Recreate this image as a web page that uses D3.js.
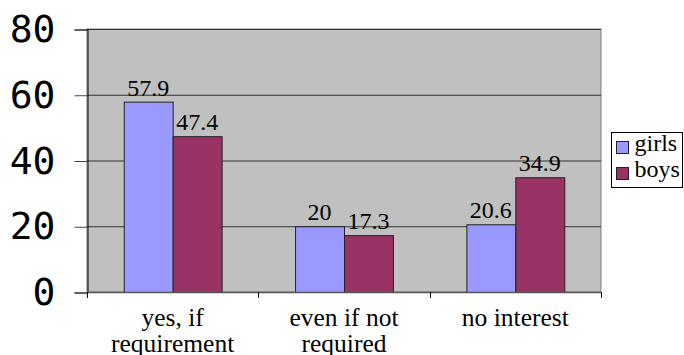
<!DOCTYPE html>
<html>
<head>
<meta charset="utf-8">
<script src="https://cdn.jsdelivr.net/npm/d3@7"></script>
<style>
  html, body { margin: 0; padding: 0; background: #fff; overflow: hidden; }
  svg { display: block; }
  .serif { font-family: "Liberation Serif", "Times New Roman", Times, serif; }
  .mono { font-family: "DejaVu Sans Mono", "Liberation Mono", monospace; }
</style>
</head>
<body>
<svg id="chart" width="684" height="355"></svg>
<script>
// Survey answers by category, percentages per group
const categories = [["yes, if", "requirement"], ["even if not", "required"], ["no interest"]];
const seriesNames = ["girls", "boys"];
const girls = [57.9, 20, 20.6];
const boys = [47.4, 17.3, 34.9];
const yTicks = [0, 20, 40, 60, 80];
const colors = ["#9999ff", "#993366"];

const svg = d3.select("#chart");
const plot = { left: 87, right: 601, top: 29, bottom: 292 };

const x = d3.scaleBand()
  .domain(d3.range(categories.length))
  .range([plot.left, plot.right])
  .paddingInner(0).paddingOuter(0);

const y = d3.scaleLinear().domain([0, 80]).range([plot.bottom, plot.top]);

// bars take 2 slots + 1.5 slot gap inside each band
const barW = x.bandwidth() / 3.5;

// plot background
svg.append("rect")
  .attr("x", plot.left).attr("y", plot.top)
  .attr("width", plot.right - plot.left).attr("height", plot.bottom - plot.top)
  .attr("fill", "#c0c0c0").attr("stroke", "#808080").attr("stroke-width", 1);

// horizontal gridlines
svg.append("g").selectAll("line").data(yTicks.filter(d => d > 0)).join("line")
  .attr("x1", plot.left).attr("x2", plot.right)
  .attr("y1", d => y(d) + 0.5).attr("y2", d => y(d) + 0.5)
  .attr("stroke", "#333").attr("stroke-width", 1);

// y axis with outward ticks
const yAxis = d3.axisLeft(y).tickValues(yTicks).tickSize(13).tickPadding(20);
const gy = svg.append("g").attr("transform", `translate(${plot.left + 0.5},0.5)`).call(yAxis);
gy.attr("font-family", null).attr("font-size", null);
gy.select(".domain").attr("stroke", "#000");
gy.selectAll(".tick line").attr("stroke", "#444");
gy.selectAll(".tick text")
  .attr("class", "mono")
  .style("font-size", "38px").attr("fill", "#000")
  .attr("x", -32);

// bars
const series = [girls, boys];
series.forEach((vals, s) => {
  svg.append("g").selectAll("rect").data(vals).join("rect")
    .attr("x", (d, i) => x(i) + barW * 0.75 + s * barW + 0.5)
    .attr("y", d => y(d) + 0.5)
    .attr("width", barW)
    .attr("height", d => y(0) - y(d))
    .attr("fill", colors[s])
    .attr("stroke", "#222").attr("stroke-width", 1);
});

// value labels above bars
series.forEach((vals, s) => {
  svg.append("g").selectAll("text").data(vals).join("text")
    .attr("class", "serif")
    .attr("x", (d, i) => x(i) + barW * 0.75 + s * barW + barW / 2)
    .attr("y", d => y(d) - 6)
    .attr("text-anchor", "middle")
    .style("font-size", "24px").attr("fill", "#000")
    .text(d => d);
});

// x axis line and category ticks
svg.append("line")
  .attr("x1", plot.left).attr("x2", plot.right)
  .attr("y1", plot.bottom + 0.5).attr("y2", plot.bottom + 0.5)
  .attr("stroke", "#555").attr("stroke-width", 1.5);
svg.append("g").selectAll("line").data(d3.range(categories.length + 1)).join("line")
  .attr("x1", i => Math.round(plot.left + i * x.bandwidth()) + 0.5)
  .attr("x2", i => Math.round(plot.left + i * x.bandwidth()) + 0.5)
  .attr("y1", plot.bottom).attr("y2", plot.bottom + 6)
  .attr("stroke", "#000");

// category labels
const catG = svg.append("g").selectAll("text").data(categories).join("text")
  .attr("class", "serif")
  .attr("text-anchor", "middle")
  .style("font-size", "25.5px").attr("fill", "#000");
catG.selectAll("tspan").data((d, i) => d.map(t => ({ t, i }))).join("tspan")
  .attr("x", d => x(d.i) + x.bandwidth() / 2)
  .attr("y", (d, j) => 326 + j * 26)
  .text(d => d.t);

// legend
const leg = svg.append("g").attr("transform", "translate(611.5,132.5)");
leg.append("rect").attr("width", 71).attr("height", 55)
  .attr("fill", "#fff").attr("stroke", "#000").attr("stroke-width", 1);
seriesNames.forEach((name, s) => {
  leg.append("rect")
    .attr("x", 5).attr("y", 9 + s * 26).attr("width", 12).attr("height", 12)
    .attr("fill", colors[s]).attr("stroke", "#222");
  leg.append("text")
    .attr("class", "serif")
    .attr("x", 23).attr("y", 18.5 + s * 26)
    .style("font-size", "24px").attr("fill", "#000")
    .text(name);
});
</script>
</body>
</html>
